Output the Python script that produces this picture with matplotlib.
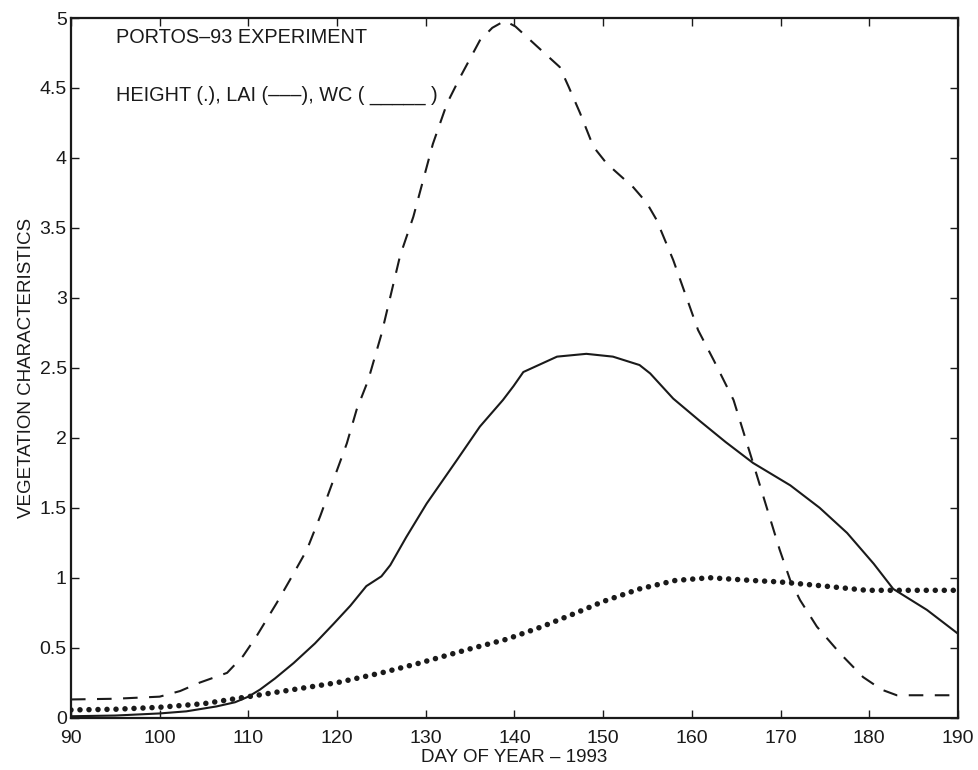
import matplotlib
matplotlib.use("Agg")
import matplotlib.pyplot as plt

plt.rcParams['font.family'] = ['Liberation Sans', 'DejaVu Sans']

# LAI (dashed)
days_lai = [90, 95, 100, 102.3, 104.5, 107.6, 109.4, 110.9, 113.2, 115.1, 116.6, 118.1,
            119.6, 121.1, 122.2, 123.5, 125.0, 127.1, 128.6, 130.8, 132.4, 133.9, 136.1,
            137.5, 138.9, 140.1, 142.5, 145.1, 146.1, 147.4, 148.9, 150.4, 153.4, 154.9,
            156.0, 157.9, 160.7, 162.5, 164.7, 166.9, 168.4, 169.9, 171.1, 172.2, 174.1,
            176.7, 179.3, 181.4, 183.1, 190]
lai = [0.13, 0.135, 0.15, 0.19, 0.25, 0.32, 0.44, 0.58, 0.82, 1.03, 1.2, 1.44,
       1.70, 1.96, 2.2, 2.41, 2.74, 3.30, 3.58, 4.1, 4.39, 4.58, 4.84,
       4.93, 4.98, 4.94, 4.80, 4.65, 4.51, 4.32, 4.08, 3.96, 3.79, 3.68,
       3.56, 3.27, 2.77, 2.55, 2.27, 1.82, 1.51, 1.2, 0.98, 0.84, 0.65,
       0.46, 0.29, 0.2, 0.16, 0.16]

# Water content WC (solid)
days_wc = [90, 95, 100, 103, 106.4, 108.5, 110, 111.3, 113, 115.1, 117.5, 119.6, 121.5,
           123.3, 125.0, 126.0, 127.8, 130.1, 133.5, 136.1, 138.7, 139.9, 141.0, 144.8,
           148.1, 151.1, 154.1, 155.3, 157.9, 160.9, 163.8, 166.9, 171.1, 174.4, 177.5,
           180.5, 182.7, 186.5, 190]
wc = [0.01, 0.015, 0.03, 0.045, 0.08, 0.11, 0.15, 0.2, 0.28, 0.39, 0.53, 0.67, 0.80,
      0.94, 1.01, 1.09, 1.29, 1.53, 1.84, 2.08, 2.27, 2.37, 2.47, 2.58,
      2.60, 2.58, 2.52, 2.46, 2.28, 2.12, 1.97, 1.82, 1.66, 1.50, 1.32,
      1.10, 0.92, 0.77, 0.60]

# Height (dotted)
days_h = [90, 95, 100, 105, 110, 115, 120, 125, 129.3, 134.9, 139.1, 143.1, 147.0, 150.0,
          154.1, 158.1, 162.0, 166.9, 169.9, 175, 179.7, 185, 190]
height = [0.055, 0.06, 0.074, 0.10, 0.15, 0.20, 0.25, 0.32, 0.39, 0.49, 0.56, 0.65, 0.75, 0.83,
          0.92, 0.98, 1.00, 0.98, 0.97, 0.94, 0.91, 0.91, 0.91]

xticks = [90, 100, 110, 120, 130, 140, 150, 160, 170, 180, 190]
yticks = [0, 0.5, 1, 1.5, 2, 2.5, 3, 3.5, 4, 4.5, 5]
ytick_labels = ["0", "0.5", "1", "1.5", "2", "2.5", "3", "3.5", "4", "4.5", "5"]

fig = plt.figure(figsize=(9.79, 7.70), dpi=100)
ax = fig.add_axes([0.0725, 0.068, 0.906, 0.9086])

c = '#1a1a1a'
ax.plot(days_lai, lai, color=c, lw=1.5, linestyle=(0, (7, 5.5)))
ax.plot(days_wc, wc, color=c, lw=1.5, linestyle='-')
ax.plot(days_h, height, color=c, lw=4.0, linestyle=(0, (0.001, 1.62)),
        dash_capstyle='round')

ax.set_xlim(90, 190)
ax.set_ylim(0, 5)
ax.set_xticks(xticks)
ax.set_xticklabels([str(t) for t in xticks])
ax.set_yticks(yticks)
ax.set_yticklabels(ytick_labels)
ax.tick_params(direction='in', length=6, width=1, top=True, right=True,
               labelsize=14, colors=c)
ax.tick_params(axis='x', pad=9)
ax.tick_params(axis='y', pad=3)
for s in ax.spines.values():
    s.set_linewidth(1.6)
    s.set_color(c)

ax.set_xlabel("DAY OF YEAR \u2013 1993", fontsize=13.5, labelpad=1, color=c)
ax.set_ylabel("VEGETATION CHARACTERISTICS", fontsize=13.5, labelpad=3, color=c)

ax.text(95.1, 4.82, "PORTOS\u201393 EXPERIMENT", fontsize=14.3, color=c)
ax.text(95.1, 4.41, "HEIGHT (.), LAI (\u2013\u2013\u2013), WC ( _____ )", fontsize=14.3, color=c)

fig.savefig("out.png", dpi=100)
